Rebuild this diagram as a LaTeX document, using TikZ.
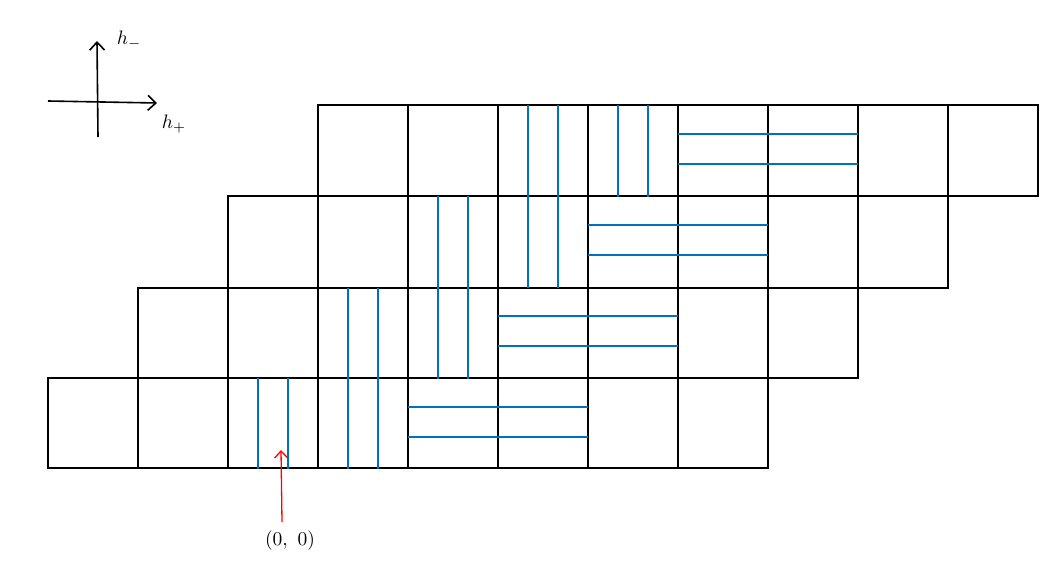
\documentclass[tikz,border=0pt]{standalone}
\usetikzlibrary{arrows.meta}
\definecolor{gblue}{HTML}{0070C0}
\begin{document}
\begin{tikzpicture}[x=1pt,y=-1pt,
  cellline/.style={black,line width=1.6pt},
  bline/.style={gblue,line width=2.8pt},
  axis/.style={black,line width=1.6pt,-{Straight Barb[length=8pt,width=15pt,line width=1.6pt]}},
  pointer/.style={red,line width=1.3pt,-{Straight Barb[length=7pt,width=13pt,line width=1.3pt]}},
  lab/.style={inner sep=1pt,scale=1.95,transform shape}]
\useasboundingbox (0,0) rectangle (1064,572);
% grid rows: row r has bottom yb, top yt, left x = 48+90r, 8 cells
\foreach \r/\yb/\yt in {0/468/378,1/378/288,2/288/196,3/196/105}{
  \pgfmathsetmacro{\xl}{48+90*\r}
  \pgfmathsetmacro{\xr}{\xl+720}
  \draw[cellline] (\xl,\yb) rectangle (\xr,\yt);
  \foreach \c in {1,...,7}{
    \pgfmathsetmacro{\xc}{\xl+90*\c}
    \draw[cellline] (\xc,\yb) -- (\xc,\yt);
  }
}
% blue vertical pairs
\foreach \xa/\ya/\yb in {258/378/469, 348/288/469, 438/196/379, 528/105/288, 618/105/197}{
  \draw[bline] (\xa,\ya) -- (\xa,\yb);
  \draw[bline] (\xa+30,\ya) -- (\xa+30,\yb);
}
% blue horizontal pairs
\foreach \xa/\xb/\ya in {408/588/407, 498/678/316, 588/768/225, 678/858/134}{
  \draw[bline] (\xa,\ya) -- (\xb,\ya);
  \draw[bline] (\xa,\ya+30) -- (\xb,\ya+30);
}
% axes
\coordinate (hs) at (48,101);
\coordinate (he) at (157,103);
\coordinate (vs) at (98,137);
\coordinate (ve) at (97,41);
\draw[axis] (hs) -- (he);
\draw[axis] (vs) -- (ve);
\node[lab] (hm) at (129,40) {$h_-$};
\node[lab] (hp) at (174,124) {$h_+$};
% origin pointer
\node[lab] (orig) at (290,541) {$(0,\ 0)$};
\coordinate (ptip) at (281,450);
\draw[pointer] (282,522) -- (ptip);
\end{tikzpicture}
\end{document}
